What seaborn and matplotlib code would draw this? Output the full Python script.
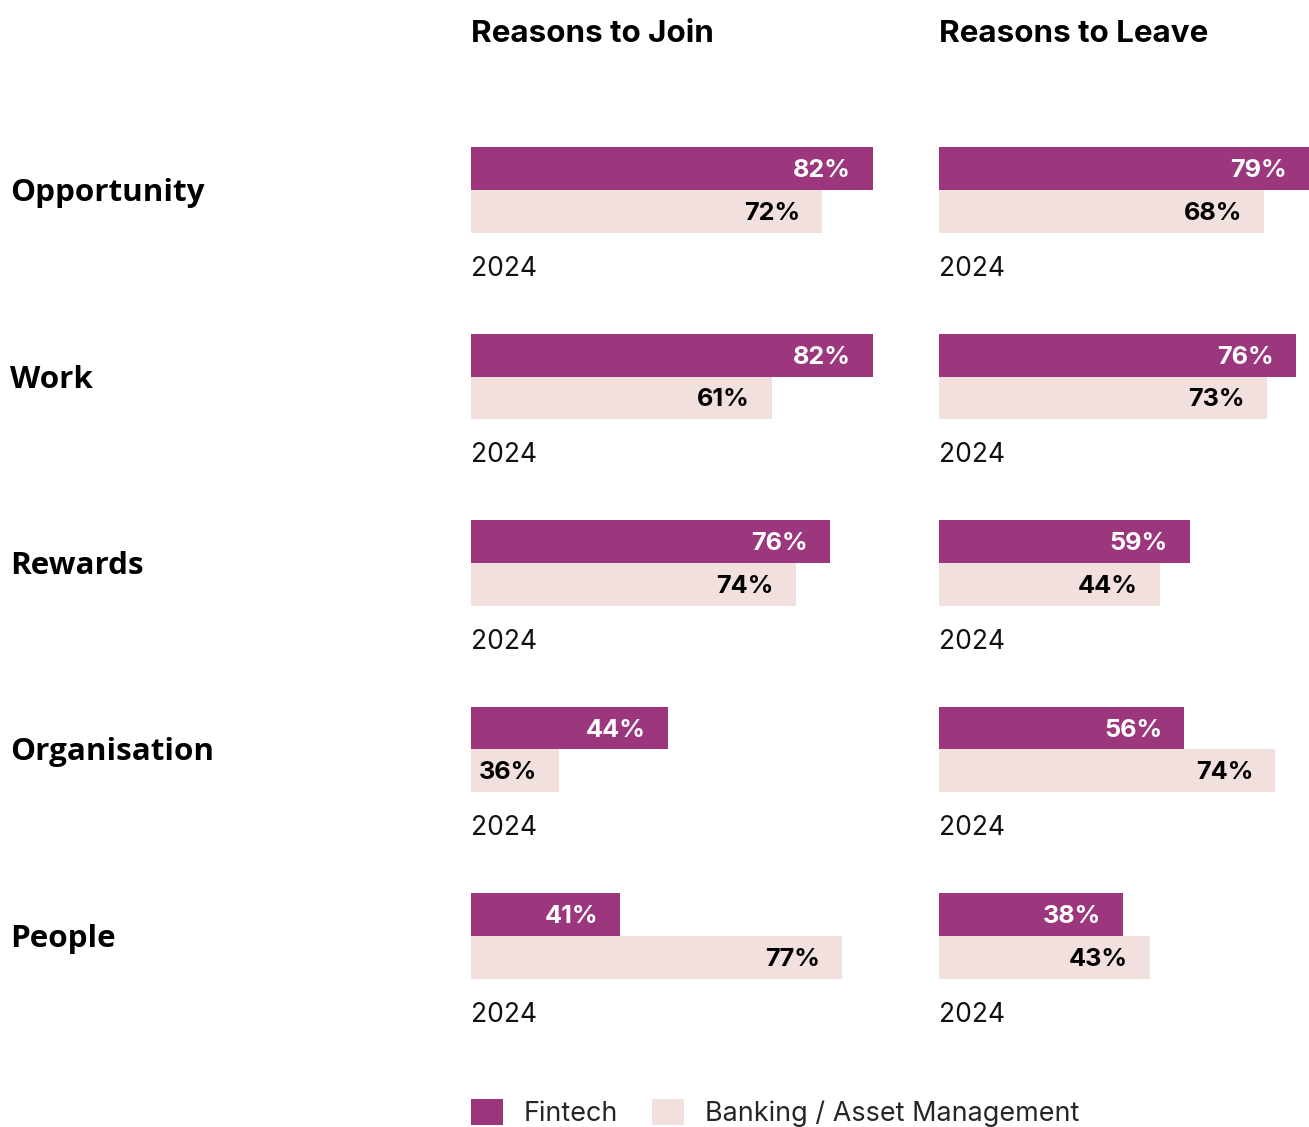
import matplotlib
matplotlib.use("Agg")
import matplotlib.pyplot as plt
import matplotlib.transforms as mtransforms
from matplotlib.patches import Patch
import pandas as pd
import seaborn as sns

categories = ["Opportunity", "Work", "Rewards", "Organisation", "People"]
series = ["Fintech", "Banking / Asset Management"]
panel_titles = ["Reasons to Join", "Reasons to Leave"]
year_label = "2024"

# bar lengths as drawn in the reference (they do not follow the printed labels exactly)
join_fintech = [82.0, 82.0, 73.3, 40.2, 30.4]
join_banking = [71.6, 61.4, 66.3, 18.0, 75.7]
leave_fintech = [75.5, 72.9, 51.2, 50.0, 37.6]
leave_banking = [66.3, 66.9, 45.1, 68.6, 43.1]

# printed value labels
join_fintech_lbl = ["82%", "82%", "76%", "44%", "41%"]
join_banking_lbl = ["72%", "61%", "74%", "36%", "77%"]
leave_fintech_lbl = ["79%", "76%", "59%", "56%", "38%"]
leave_banking_lbl = ["68%", "73%", "44%", "74%", "43%"]

FINTECH = "#9C367D"
BANKING = "#F2E0DE"

sns.set_theme(style="white")
plt.rcParams["font.family"] = ["Inter", "DejaVu Sans"]

W, H = 1309, 1127
fig = plt.figure(figsize=(W / 100, H / 100), dpi=100)

# y mapping: category i centre at pixel 190 + 186.5 * i
y_top, y_bot = -0.4, 4.9
px_top = 190 + 186.5 * y_top
px_bot = 190 + 186.5 * y_bot
ax_bottom = 1 - px_bot / H
ax_height = (px_bot - px_top) / H
xmax = 90  # 4.9 px per unit
ax_width = xmax * 4.9 / W


def panel_df(fin, bank):
    return pd.DataFrame({
        "category": categories * 2,
        "series": [series[0]] * len(categories) + [series[1]] * len(categories),
        "value": fin + bank,
    })


panels = [
    (471, join_fintech, join_banking, join_fintech_lbl, join_banking_lbl),
    (939, leave_fintech, leave_banking, leave_fintech_lbl, leave_banking_lbl),
]

axes = []
for (left_px, fin, bank, fin_lbl, bank_lbl), title in zip(panels, panel_titles):
    ax = fig.add_axes([left_px / W, ax_bottom, ax_width, ax_height])
    df = panel_df(fin, bank)
    sns.barplot(data=df, y="category", x="value", hue="series",
                order=categories, hue_order=series,
                palette=[FINTECH, BANKING], saturation=1,
                width=0.461, gap=0, errorbar=None, legend=False,
                linewidth=0, ax=ax)
    ax.set_xlim(0, xmax)
    ax.set_ylim(y_bot, y_top)
    ax.axis("off")

    # value labels, right-aligned 22px inside bar end
    for cont, labels, col in zip(ax.containers, [fin_lbl, bank_lbl], ["white", "black"]):
        for bar, lbl in zip(cont, labels):
            yc = bar.get_y() + bar.get_height() / 2
            ax.annotate(lbl, xy=(bar.get_width(), yc + 8.5 / 186.5),
                        xytext=(-22 * 0.72, 0), textcoords="offset points",
                        ha="right", va="baseline", color=col,
                        fontsize=18.2, fontweight="bold")

    for i in range(len(categories)):
        ax.text(0, i + 86 / 186.5, year_label, ha="left", va="baseline",
                fontsize=19, color="#111111")

    fig.text(left_px / W, 1 - 42 / H, title, ha="left", va="baseline",
             fontsize=22.6, fontweight="bold", color="black")
    axes.append(ax)

# category labels on the left
trans = mtransforms.blended_transform_factory(fig.transFigure, axes[0].transData)
for i, cat in enumerate(categories):
    axes[0].text(10 / W, i + 11 / 186.5, cat, transform=trans, ha="left", va="baseline",
                 fontsize=22.6, fontweight="bold", color="black",
                 family=["Open Sans", "DejaVu Sans"], clip_on=False)

handles = [Patch(facecolor=FINTECH, edgecolor="none"),
           Patch(facecolor=BANKING, edgecolor="none")]
fig.legend(handles, series, loc="upper left", ncol=2, frameon=False,
           bbox_to_anchor=(471 / W, 1 - 1099 / H), borderaxespad=0, borderpad=0,
           fontsize=19.4, handlelength=1.18, handleheight=1.1,
           handletextpad=0.78, columnspacing=1.25)

fig.savefig("out.png", dpi=100)
